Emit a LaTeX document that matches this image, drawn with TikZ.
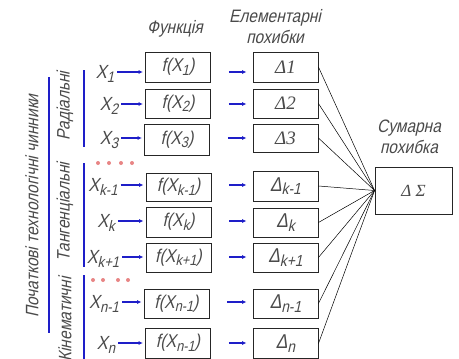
\documentclass[tikz,border=0pt]{standalone}
\usepackage{fontspec}
\usepackage{graphicx}
\newfontfamily\gost[FakeStretch=0.86,FakeSlant=0.22]{Liberation Sans}
\newfontfamily\gostserif{Liberation Serif}
\usetikzlibrary{arrows.meta}
\definecolor{ink}{HTML}{4A4A4A}
\definecolor{bl}{HTML}{1E1EC8}
\definecolor{dotred}{HTML}{E88585}
\newcommand\lowsub[1]{\raisebox{-0.35ex}{\scalebox{0.8}{#1}}}
\begin{document}
\begin{tikzpicture}[x=1pt,y=-1pt,
  lbl/.style={font=\gost\fontsize{18}{21}\selectfont, text=ink, inner sep=0pt, align=center},
  rlbl/.style={lbl, rotate=90},
  xlbl/.style={font=\gost\fontsize{19}{19}\selectfont, text=ink, inner sep=0pt, text height=13pt, text depth=0pt},
  fbox/.style={draw=black!85, line width=0.9pt, minimum width=65pt, minimum height=30pt, inner sep=0pt, font=\gost\fontsize{18.5}{18.5}\selectfont, text=ink},
  dbox/.style={fbox, font=\gost\fontsize{20}{20}\selectfont},
  sbox/.style={fbox, font=\gostserif\itshape\fontsize{19}{19}\selectfont},
  arr/.style={draw=bl, line width=1.5pt, -{Latex[length=4.5pt,width=4pt]}},
  bar/.style={draw=bl, line width=1.4pt},
  conn/.style={draw=black, line width=0.5pt},
  rdot/.style={circle, fill=dotred, inner sep=0pt, minimum size=4pt}
]
\useasboundingbox (0,0) rectangle (459,359);
\clip (0,0) rectangle (459,359);
\fill[white] (0,0) rectangle (459,359);

% headers
\node[lbl] (hf) at (175,29) {Функція};
\node[lbl] (he) at (275,27) {Елементарні\\похибки};
\node[lbl] (hs) at (409,137) {Сумарна\\похибка};

% rotated group labels
\node[rlbl] (gall) at (32,206) {Початкові технологічні чинники};
\node[rlbl] (grad) at (65,106) {Радіальні};
\node[rlbl] (gtan) at (65,212) {Тангенціальні};
\node[rlbl, anchor=east] (gkin) at (65,277) {Кінематичні};

% bars
\draw[bar] (49,77) -- (49,333);
\draw[bar] (84,70) -- (84,147);
\draw[bar] (84,163) -- (84,267);
\draw[bar] (84,275) -- (84,362);

% dots
\foreach \x in {98,109,121,132} \node[rdot] at (\x,163) {};
\foreach \x in {93,103,118,128} \node[rdot] at (\x,280) {};

% X labels
\node[xlbl] (x1)  at (105,72)  {X\lowsub{1}};
\node[xlbl] (x2)  at (109,104) {X\lowsub{2}};
\node[xlbl] (x3)  at (109,138) {X\lowsub{3}};
\node[xlbl] (xk1) at (103,185) {X\lowsub{k-1}};
\node[xlbl] (xk)  at (106,221) {X\lowsub{k}};
\node[xlbl] (xk2) at (103,257) {X\lowsub{k+1}};
\node[xlbl] (xn1) at (104,302) {X\lowsub{n-1}};
\node[xlbl] (xn)  at (106,343) {X\lowsub{n}};

% function boxes
\node[fbox, minimum height=30pt] (f1)  at (178,67)    {f(X\lowsub{1})};
\node[fbox, minimum height=29pt] (f2)  at (178,103.5) {f(X\lowsub{2})};
\node[fbox, minimum height=31pt] (f3)  at (177,139.5) {f(X\lowsub{3})};
\node[fbox, minimum height=28pt] (fk1) at (178.5,187) {f(X\lowsub{k-1})};
\node[fbox, minimum height=30pt] (fk)  at (178.5,222) {f(X\lowsub{k})};
\node[fbox, minimum height=29pt] (fk2) at (178.5,257.5) {f(X\lowsub{k+1})};
\node[fbox, minimum height=29pt] (fn1) at (176.5,303.5) {f(X\lowsub{n-1})};
\node[fbox, minimum height=30pt] (fn)  at (178,343)   {f(X\lowsub{n-1})};

% delta boxes
\node[sbox, minimum height=30pt] (d1)  at (285.5,67)    {Δ\textit{1}};
\node[sbox, minimum height=29pt] (d2)  at (285.5,103.5) {Δ\textit{2}};
\node[sbox, minimum height=28pt] (d3)  at (285.5,138)   {Δ\textit{3}};
\node[dbox, minimum height=30pt] (dk1) at (285.5,186)   {Δ\lowsub{k-1}};
\node[dbox, minimum height=29pt] (dk)  at (285.5,222.5) {Δ\lowsub{k}};
\node[dbox, minimum height=29pt] (dk2) at (285.5,257.5) {Δ\lowsub{k+1}};
\node[dbox, minimum height=29pt] (dn1) at (285.5,303.5) {Δ\lowsub{n-1}};
\node[dbox, minimum height=30pt] (dn)  at (285.5,343.5) {Δ\lowsub{n}};

% sum box
\node[sbox, minimum width=77pt, minimum height=47pt, font=\gostserif\itshape\fontsize{17}{17}\selectfont] (sig) at (413.5,190.5) {Δ Σ};

% arrows X -> f -> Delta
\foreach \r in {1,2,3,k1,k,k2,n1,n}{
  \draw[arr, shorten <=3pt, shorten >=2pt] (x\r.east) -- (x\r.east -| f\r.west);
  \draw[arr, shorten <=18pt, shorten >=6pt] (x\r.east -| f\r.east) -- (x\r.east -| d\r.west);
  \draw[conn] (d\r.east) -- (sig.west);
}
\end{tikzpicture}
\end{document}
